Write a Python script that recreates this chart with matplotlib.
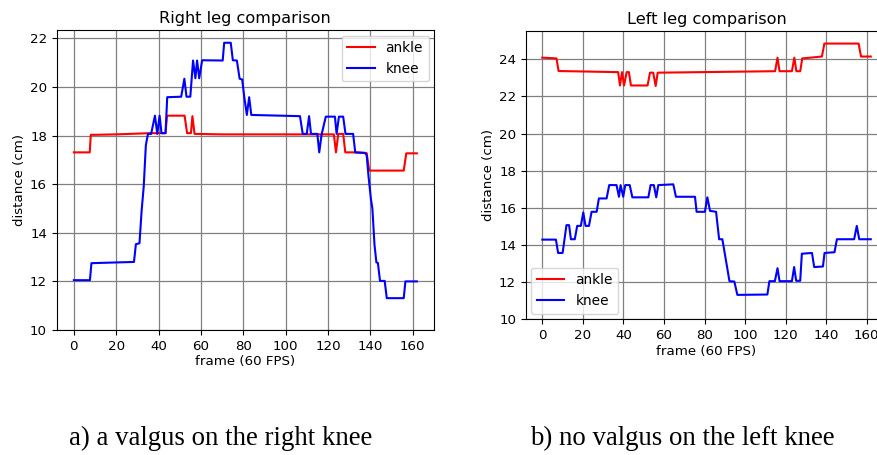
import matplotlib
matplotlib.use("Agg")
import matplotlib.pyplot as plt

# right leg (valgus) - frame / distance
right_ankle_f = [0, 7.5, 8, 20, 36, 43.3, 44, 52.3, 53.5, 55.3, 56, 57, 70, 100, 122.8,
                 123.8, 124.9, 127.2, 128.2, 132.3, 138.3, 139.5, 155.8, 157, 162]
right_ankle_v = [17.31, 17.31, 18.03, 18.05, 18.1, 18.1, 18.82, 18.82, 18.1, 18.1, 18.8,
                 18.07, 18.05, 18.05, 18.05, 17.31, 18.07, 18.07, 17.31, 17.31, 17.28,
                 16.56, 16.56, 17.27, 17.27]

right_knee_f = [0, 7.6, 8.3, 20, 28.4, 29.3, 31, 32, 33, 34, 35, 36.5, 38.3, 39.4, 40.5,
                41.4, 43.3, 44.1, 50.7, 52.2, 53.2, 55, 56.3, 57.4, 58.2, 59.2, 60.6,
                70.3, 71, 74.1, 75.1, 77, 78.3, 79.5, 80.5, 81.7, 82.8, 83.8, 106.8,
                108.1, 110, 111.1, 112, 115, 115.9, 117, 119, 123.3, 124.1, 125.2, 127.2,
                128.3, 131.9, 132.9, 137.4, 138.3, 139.2, 140.3, 141, 142, 142.9, 143.6,
                144.6, 146.8, 147.8, 155.8, 156.6, 162]
right_knee_v = [12.05, 12.05, 12.75, 12.78, 12.8, 13.53, 13.57, 14.9, 15.9, 17.6, 18.07,
                18.07, 18.82, 18.07, 18.82, 18.1, 18.1, 19.58, 19.6, 20.34, 19.6, 19.6,
                21.09, 20.36, 21.09, 20.36, 21.1, 21.09, 21.82, 21.82, 21.1, 21.09, 20.34,
                20.31, 19.58, 18.85, 19.58, 18.85, 18.8, 18.07, 18.07, 18.8, 18.07, 18.07,
                17.31, 18.04, 18.78, 18.78, 18.07, 18.78, 18.78, 18.07, 18.07, 17.31,
                17.29, 17.2, 16.3, 15.4, 15.0, 13.5, 12.78, 12.76, 12.02, 12.02, 11.31,
                11.31, 12.0, 12.0]

# left leg (no valgus)
left_ankle_f = [0, 7, 8, 37.4, 38.3, 39.3, 40.3, 41.6, 42.7, 43.7, 51.9, 53.1, 54.7, 55.9,
                56.9, 114.8, 116, 117, 123.1, 124.3, 125.3, 127.2, 128.2, 137.9, 139.1,
                156, 157.2, 162]
left_ankle_v = [24.09, 24.05, 23.37, 23.31, 22.59, 23.31, 22.59, 23.31, 23.31, 22.59,
                22.59, 23.28, 23.28, 22.56, 23.28, 23.36, 24.09, 23.36, 23.36, 24.09, 23.36,
                23.36, 24.05, 24.15, 24.85, 24.85, 24.15, 24.15]

left_knee_f = [0, 6.7, 7.8, 10, 11.9, 13.2, 14.1, 16, 17.2, 19, 20.2, 21.3, 23, 24.3, 26.8,
               27.9, 31.7, 33, 36.6, 37.8, 38.6, 39.9, 40.9, 43.1, 44.4, 52.3, 53.4, 55,
               56.2, 57.2, 64.6, 65.9, 75.3, 76.1, 80.2, 81.4, 82.7, 85.7, 87.2, 88.8, 92.3,
               94.7, 96.2, 111, 112, 114.7, 116, 117, 123.1, 124.2, 125.2, 127.2, 128, 133,
               134.1, 138.4, 139.2, 144.1, 145.3, 153.8, 155.1, 156.3, 162]
left_knee_v = [14.28, 14.28, 13.56, 13.56, 15.06, 15.06, 14.3, 14.3, 15.02, 15.02, 15.75,
               15.02, 15.02, 15.78, 15.78, 16.5, 16.5, 17.22, 17.22, 16.59, 17.22, 16.59,
               17.22, 17.22, 16.56, 16.56, 17.22, 17.22, 16.56, 17.22, 17.26, 16.59, 16.59,
               15.78, 15.78, 16.56, 15.83, 15.78, 14.3, 14.3, 12.04, 12.02, 11.3, 11.32,
               12.04, 12.04, 12.74, 12.04, 12.04, 12.8, 12.06, 12.06, 13.52, 13.56, 12.8,
               12.83, 13.56, 13.6, 14.3, 14.3, 15.02, 14.3, 14.3]

W, H = 877, 455
fs = 9.6

fig = plt.figure(figsize=(W / 100, H / 100), dpi=100)
ax1 = fig.add_axes([56.7 / W, (H - 330) / H, (434 - 56.7) / W, 300 / H])
ax2 = fig.add_axes([525.9 / W, (H - 319) / H, 361.3 / W, 288 / H])


def draw(ax, af, av, kf, kv, title, loc):
    ax.plot(af, av, color="red", lw=1.5, label="ankle")
    ax.plot(kf, kv, color="blue", lw=1.5, label="knee")
    ax.set_ylim(bottom=10)
    ax.grid(True, color="gray", lw=0.9)
    ax.set_axisbelow(True)
    ax.set_title(title, fontsize=11.6, pad=5)
    ax.set_xlabel("frame (60 FPS)", fontsize=fs, labelpad=2)
    ax.set_ylabel("distance (cm)", fontsize=fs, labelpad=3)
    ax.tick_params(labelsize=fs, length=3.5)
    ax.set_xticks(range(0, 161, 20))
    ax.legend(loc=loc, fontsize=fs + 0.3, framealpha=0.8, borderaxespad=0.4)


draw(ax1, right_ankle_f, right_ankle_v, right_knee_f, right_knee_v,
     "Right leg comparison", "upper right")
draw(ax2, left_ankle_f, left_ankle_v, left_knee_f, left_knee_v,
     "Left leg comparison", "lower left")

fig.text(221 / W, 1 - 438 / H, "a) a valgus on the right knee", ha="center", va="center",
         fontsize=19.3, family="Liberation Serif")
fig.text(682 / W, 1 - 438 / H, "b) no valgus on the left knee", ha="center", va="center",
         fontsize=19.3, family="Liberation Serif")

fig.savefig("out.png", dpi=100)
